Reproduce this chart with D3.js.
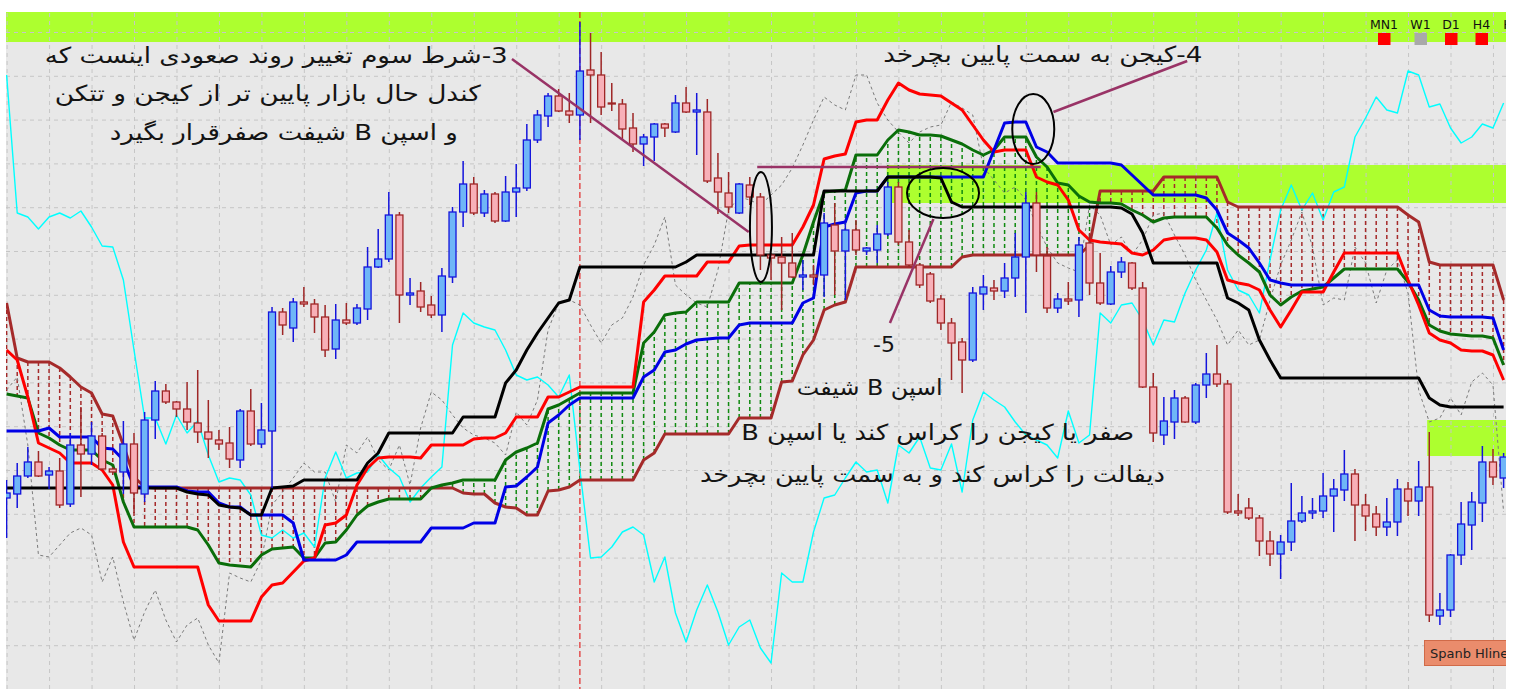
<!DOCTYPE html>
<meta charset="utf-8">
<style>
    body { margin: 0; background: #fff; }
    svg text { font-family: "DejaVu Sans", sans-serif; }
    .grid line { stroke: #c6c6c6; stroke-dasharray: 4,4; }
    .grid path { display: none; }
</style>
<body>
<script src="https://d3js.org/d3.v7.min.js"></script>
<script>
// candles (price in points)
var opens = [502,506,524,538,525,529,496,555,546,564,
    531,528,556,506,580,609,598,591,577,568,
    560,557,540,589,556,569,688,672,698,696,
    683,651,680,677,691,733,741,785,705,709,
    695,685,723,788,816,787,806,779,808,812,
    860,884,904,889,885,930,925,897,896,872,
    856,863,876,868,897,888,888,822,807,787,
    815,803,745,743,737,723,725,725,775,749,
    770,749,750,766,813,758,735,726,701,677,
    658,640,706,712,709,722,743,797,744,692,
    701,700,757,717,696,728,737,712,613,565,
    578,602,578,615,626,616,489,492,482,459,
    446,458,479,487,489,504,510,526,495,486,
    473,478,511,499,513,384,390,445,475,497,
    538,522];
var highs = [520,537,553,549,533,542,567,593,578,567,
    533,579,567,588,619,616,599,618,630,600,
    570,573,591,611,597,693,692,702,713,701,
    695,696,697,696,753,771,808,788,722,718,
    704,732,793,839,823,810,808,824,836,876,
    890,907,911,907,978,967,948,917,901,887,
    866,877,877,905,913,907,901,847,828,817,
    823,807,747,763,767,740,735,787,797,778,
    780,753,775,818,818,770,737,728,705,682,
    662,713,725,720,737,767,808,808,753,707,
    718,763,767,747,734,743,738,718,627,603,
    610,604,617,647,655,620,506,502,485,469,
    465,517,504,502,527,521,550,531,506,494,
    502,521,518,539,568,407,446,498,508,554,
    551,547];
var lows = [462,492,522,523,511,492,493,503,535,530,
    525,506,487,498,561,596,583,570,557,542,
    550,532,532,554,552,512,665,658,693,667,
    643,641,675,675,680,732,738,677,695,688,
    682,668,717,773,785,783,777,778,783,809,
    857,873,888,877,860,877,885,889,860,848,
    834,839,863,867,887,845,817,786,787,786,
    795,730,720,690,722,710,715,703,705,700,
    745,745,737,764,755,733,712,697,670,620,
    607,638,690,700,702,703,687,728,687,687,
    695,683,705,695,695,722,710,612,558,555,
    561,577,576,602,613,486,484,480,444,434,
    421,449,477,481,482,468,499,459,469,464,
    464,464,484,484,378,375,383,435,450,478,
    515,512];
var closes = [507,524,538,524,529,495,555,546,564,531,
    528,556,507,580,609,598,591,578,568,561,
    556,541,589,556,570,688,675,698,696,683,
    650,680,677,692,733,741,785,705,707,693,
    685,724,788,816,787,806,779,808,812,860,
    885,904,889,885,929,925,893,896,871,856,
    863,876,872,897,888,890,819,808,793,816,
    803,745,742,737,723,725,723,777,749,770,
    750,752,766,813,758,735,715,699,677,657,
    640,707,713,709,722,743,797,745,692,701,
    699,755,717,697,728,738,712,613,567,579,
    602,578,615,626,616,488,487,482,459,446,
    458,479,487,489,504,511,526,495,484,473,
    478,511,499,513,385,390,445,476,498,538,
    523,543];

// indicator lines, one value per candle
var blackLine = [512,512,512,512,512,512,512,512,512,512,
    512,512,512,512,512,512,512,508,506,505,
    495,493,492,485,485,512,513,514,520,520,
    520,520,520,520,537,547,567,567,567,567,
    567,567,567,583,583,583,583,617,630,650,
    667,682,697,700,733,733,733,733,733,733,
    733,733,733,733,738,745,745,745,745,745,
    745,745,745,745,745,745,745,809,809,809,
    809,809,809,823,823,823,823,823,822,798,
    793,793,793,793,793,793,793,793,793,793,
    793,793,793,793,793,792,786,767,737,737,
    737,737,737,737,737,702,697,690,660,640,
    622,622,622,622,622,622,622,622,622,622,
    622,622,622,622,602,595,593,593,593,593,
    593,593];
var blueLine = [569,569,569,569,572,563,563,563,563,552,
    551,540,513,513,513,513,513,509,508,508,
    497,493,493,485,485,485,485,477,440,440,
    440,440,445,458,458,458,458,458,458,458,
    472,472,472,472,477,477,477,513,514,523,
    533,577,585,595,602,602,602,602,602,602,
    623,630,648,650,656,660,661,662,662,675,
    677,677,677,677,677,697,702,773,776,778,
    807,809,809,823,823,823,823,823,823,823,
    823,823,823,850,877,878,878,853,848,837,
    837,837,837,837,837,835,825,815,805,805,
    805,805,805,802,790,767,760,752,737,720,
    717,715,715,715,715,715,715,715,715,715,
    715,715,715,715,690,684,683,683,683,683,
    682,650];
var redLine = [650,640,603,557,552,547,537,537,537,530,
    515,458,433,433,433,433,433,433,433,395,
    379,379,379,379,403,415,417,428,439,442,
    475,477,485,515,532,542,543,543,543,542,
    555,555,555,555,561,562,562,567,583,583,
    583,603,603,608,613,613,613,613,613,613,
    698,710,724,724,724,724,738,738,738,754,
    755,755,755,755,755,773,795,841,844,846,
    878,880,880,900,917,910,906,905,904,897,
    890,875,860,848,850,850,850,823,818,815,
    800,770,760,758,757,756,747,745,750,760,
    762,762,762,760,748,720,717,715,710,690,
    673,690,708,708,708,728,747,747,747,747,
    747,747,720,695,667,660,657,650,649,649,
    645,620];
var spanA = [606,604,602,567,562,555,550,550,550,540,
    535,498,473,473,473,473,473,473,470,455,
    437,435,434,433,445,451,452,453,442,442,
    457,458,470,485,494,498,501,501,501,501,
    512,515,517,520,520,520,520,540,548,552,
    557,591,595,601,607,607,607,607,607,607,
    657,668,685,687,688,698,698,698,698,717,
    717,717,717,717,717,745,778,808,809,810,
    845,845,845,860,870,868,865,865,864,860,
    856,850,845,850,863,863,863,843,833,817,
    815,804,798,797,797,796,790,785,778,782,
    783,783,783,783,772,755,745,737,728,705,
    695,703,709,711,713,722,731,731,731,731,
    731,731,718,700,675,669,666,665,664,664,
    662,635];
var spanB = [697,642,638,638,638,632,623,613,607,586,
    584,555,523,513,512,512,512,512,512,512,
    512,512,512,512,512,512,512,512,512,512,
    512,512,512,512,512,512,512,512,512,512,
    512,512,512,507,506,506,497,493,492,485,
    485,509,510,513,520,520,520,520,520,520,
    540,547,566,566,566,566,566,566,566,582,
    582,582,582,618,619,645,660,690,695,698,
    733,733,733,733,733,733,733,733,733,733,
    743,745,745,745,745,745,745,745,745,745,
    745,745,755,809,809,809,809,809,809,823,
    823,823,823,823,823,798,793,793,793,793,
    793,793,793,793,793,793,793,793,793,793,
    793,793,785,778,738,735,735,735,735,735,
    735,700];
var cyanLine = [925,787,783,771,783,787,782,789,773,754,
    753,720,650,582,582,556,585,567,579,545,
    518,522,520,505,465,462,470,462,467,453,
    522,548,522,527,528,545,532,523,498,512,
    523,533,655,687,677,673,670,650,625,620,
    623,615,603,625,530,442,443,453,468,473,
    465,418,443,387,358,390,415,388,355,373,
    380,352,337,427,418,418,468,502,505,522,
    538,528,530,497,555,547,563,532,530,556,
    508,580,608,600,593,578,565,560,555,542,
    589,557,565,687,677,695,697,680,655,680,
    678,707,730,750,787,730,710,705,687,740,
    790,815,790,807,780,808,813,863,882,903,
    890,887,929,925,893,896,872,857,863,876,
    872,897];
var grayLine = [610,623,555,445,443,455,467,472,465,418,
    443,398,360,388,410,380,358,375,382,355,
    337,427,422,418,440,495,508,522,537,528,
    528,498,555,547,563,540,530,555,515,572,
    608,600,585,572,565,562,557,545,588,575,
    600,670,697,700,695,675,657,675,682,703,
    735,755,783,715,705,697,693,730,790,803,
    800,795,805,815,832,855,880,903,895,890,
    925,925,897,880,868,857,868,873,875,898,
    892,885,833,820,807,813,800,775,753,737,
    732,728,795,785,755,763,745,760,785,787,
    765,745,720,700,680,655,670,655,660,700,
    735,760,788,753,695,702,700,753,737,697,
    730,740,707,610,578,582,602,585,618,627,
    615,488];

var priceTicks = [354.8,398.6,442.4,486.2,530,573.8,617.6,661.4,705.2,749,792.8,836.6,880.4,924.2,968];
var timeTicks = [0,4,8,12,16,20,24,28,32,36,40,44,48,52,56,60,64,68,72,76,80,84,88,92,96,100,104,108,112,116,120,124,128,132,136,140];

// lime zones (spanb hlines)
var zoneStart = [-1, 82.9, 133.8];
var zoneTop = [988, 835, 580];
var zoneBottom = [958, 797, 544];

var markerIndex = 54;

var frames = ["MN1", "W1", "D1", "H4", "H1"];
var frameState = ["#ff0000", "#a9a9a9", "#ff0000", "#ff0000", "#ff0000"];

var notes = [
    {t: "3-شرط سوم تغییر روند صعودی اینست که", i: 25.4, p: 937, w: 463},
    {t: "کندل حال بازار پایین تر از کیجن و تتکن", i: 24.6, p: 899, w: 426},
    {t: "و اسپن B  شیفت صفرقرار بگیرد", i: 26.1, p: 860, w: 348},
    {t: "4-کیجن به سمت پایین بچرخد", i: 97.6, p: 938, w: 319},
    {t: "اسپن B شیفت", i: 81.3, p: 605, w: 146},
    {t: "صفر یا کیجن را کراس کند یا اسپن B", i: 87.7, p: 560, w: 393},
    {t: "دیفالت را کراس کند و به سمت پایین بچرخد", i: 87.2, p: 518, w: 465}
];
var pointers = [
    [[47.6, 941], [69.9, 768]],
    [[70.7, 833], [97.4, 833]],
    [[98.6, 888], [111.2, 939]],
    [[87.3, 781], [83.2, 677]]
];
var rings = [
    {i: 71.05, p: 773, rx: 11, ry: 55},
    {i: 88.2, p: 807, rx: 36, ry: 25},
    {i: 96.7, p: 871, rx: 21, ry: 35}
];

var width = 1515, height = 690;
var plot = {left: 6, top: 12, right: 1506, bottom: 689};

var x = d3.scaleLinear().domain([0, 141]).range([6.6, 1503.6]);
var y = d3.scaleLinear().domain([311, 988]).range([689, 12]);

var svg = d3.select("body").append("svg")
    .attr("width", width)
    .attr("height", height);

svg.append("defs").append("clipPath").attr("id", "plotClip")
    .append("rect")
    .attr("x", plot.left).attr("y", plot.top)
    .attr("width", plot.right - plot.left)
    .attr("height", plot.bottom - plot.top);

var g = svg.append("g").attr("clip-path", "url(#plotClip)");

g.append("rect")
    .attr("x", plot.left).attr("y", plot.top)
    .attr("width", plot.right - plot.left)
    .attr("height", plot.bottom - plot.top)
    .attr("fill", "#e8e8e8");

// zones
g.selectAll(".zone")
    .data(d3.range(zoneStart.length))
    .enter().append("rect")
    .attr("x", function(k) { return x(zoneStart[k]); })
    .attr("width", function(k) { return plot.right - x(zoneStart[k]); })
    .attr("y", function(k) { return y(zoneTop[k]); })
    .attr("height", function(k) { return y(zoneBottom[k]) - y(zoneTop[k]); })
    .attr("fill", "#adff2f");

// grid
g.append("g").attr("class", "grid")
    .attr("transform", "translate(0," + plot.bottom + ")")
    .call(d3.axisBottom(x).tickValues(timeTicks).tickSize(-(plot.bottom - plot.top)).tickFormat(""));
g.append("g").attr("class", "grid")
    .attr("transform", "translate(" + plot.left + ",0)")
    .call(d3.axisLeft(y).tickValues(priceTicks).tickSize(-(plot.right - plot.left)).tickFormat(""));

// vertical marker
g.append("line")
    .attr("x1", x(markerIndex)).attr("x2", x(markerIndex))
    .attr("y1", plot.top).attr("y2", plot.bottom)
    .attr("stroke", "#e00000").attr("stroke-width", 1)
    .attr("stroke-dasharray", "6,3");

// cloud hatching
var idx = d3.range(opens.length);
g.selectAll(".hatch")
    .data(idx.filter(function(i) { return spanA[i] !== spanB[i]; }))
    .enter().append("line")
    .attr("x1", function(i) { return x(i); })
    .attr("x2", function(i) { return x(i); })
    .attr("y1", function(i) { return y(spanB[i]); })
    .attr("y2", function(i) { return y(spanA[i]); })
    .attr("stroke", function(i) { return spanB[i] > spanA[i] ? "#a52a2a" : "#108a10"; })
    .attr("stroke-width", 1.5)
    .attr("stroke-dasharray", "4,3");

var line = d3.line()
    .x(function(d, i) { return x(i); })
    .y(function(d) { return y(d); });

function drawLine(vals, color, w, dash) {
    g.append("path")
        .attr("d", line(vals))
        .attr("fill", "none")
        .attr("stroke", color)
        .attr("stroke-width", w)
        .attr("stroke-linejoin", "round")
        .attr("stroke-dasharray", dash || null);
}

drawLine(grayLine, "#7a7a7a", 1, "3,3");
drawLine(cyanLine, "#00ffff", 1.4);
drawLine(spanB, "#a52a2a", 3);
drawLine(spanA, "#0a6e0a", 3);
drawLine(redLine, "#ff0000", 3);
drawLine(blueLine, "#0000e6", 3);
drawLine(blackLine, "#000000", 3);

// candles
var bw = 7;
var candles = g.selectAll(".candle")
    .data(idx)
    .enter().append("g");

candles.append("line")
    .attr("x1", function(i) { return x(i); })
    .attr("x2", function(i) { return x(i); })
    .attr("y1", function(i) { return y(highs[i]); })
    .attr("y2", function(i) { return y(lows[i]); })
    .attr("stroke", function(i) { return closes[i] >= opens[i] ? "#1414dc" : "#9e2626"; })
    .attr("stroke-width", 1.5);

candles.append("rect")
    .attr("x", function(i) { return x(i) - bw / 2; })
    .attr("width", bw)
    .attr("y", function(i) { return y(Math.max(opens[i], closes[i])); })
    .attr("height", function(i) { return Math.max(1, Math.abs(y(opens[i]) - y(closes[i]))); })
    .attr("fill", function(i) { return closes[i] >= opens[i] ? "#6fb6f7" : "#f8b0b8"; })
    .attr("stroke", function(i) { return closes[i] >= opens[i] ? "#1414dc" : "#9e2626"; })
    .attr("stroke-width", 1.3);

// annotations
g.selectAll(".pointer")
    .data(pointers)
    .enter().append("line")
    .attr("x1", function(d) { return x(d[0][0]); })
    .attr("y1", function(d) { return y(d[0][1]); })
    .attr("x2", function(d) { return x(d[1][0]); })
    .attr("y2", function(d) { return y(d[1][1]); })
    .attr("stroke", "#993366")
    .attr("stroke-width", 2.5);

g.selectAll(".ring")
    .data(rings)
    .enter().append("ellipse")
    .attr("cx", function(d) { return x(d.i); })
    .attr("cy", function(d) { return y(d.p); })
    .attr("rx", function(d) { return d.rx; })
    .attr("ry", function(d) { return d.ry; })
    .attr("fill", "none")
    .attr("stroke", "#000")
    .attr("stroke-width", 2);

g.selectAll(".note")
    .data(notes)
    .enter().append("text")
    .attr("x", function(d) { return x(d.i); })
    .attr("y", function(d) { return y(d.p); })
    .attr("direction", "rtl")
    .attr("text-anchor", "middle")
    .attr("font-size", 22)
    .attr("fill", "#141414")
    .attr("textLength", function(d) { return d.w; })
    .attr("lengthAdjust", "spacingAndGlyphs")
    .text(function(d) { return d.t; });

g.append("text")
    .attr("x", x(81.6)).attr("y", y(648))
    .attr("font-size", 22)
    .attr("fill", "#141414")
    .text("-5");

// timeframe status
var tf = g.selectAll(".tf")
    .data(frames)
    .enter().append("g")
    .attr("transform", function(d, k) { return "translate(" + (1384 + k * 30.5 + (k > 0 ? 6 : 0)) + ",0)"; });
tf.append("text")
    .attr("x", 0).attr("y", 29)
    .attr("text-anchor", "middle")
    .attr("font-size", 12.5)
    .attr("fill", "#111")
    .text(function(d) { return d; });
tf.append("rect")
    .attr("x", -6).attr("y", 33)
    .attr("width", 12.5).attr("height", 12)
    .attr("fill", function(d, k) { return frameState[k]; });

// Spanb Hline button
g.append("rect")
    .attr("x", 1424.5).attr("y", 640.5)
    .attr("width", 84).attr("height", 25)
    .attr("fill", "#ea8c6c")
    .attr("stroke", "#d06a48");
g.append("text")
    .attr("x", 1430).attr("y", 658)
    .attr("font-family", "Liberation Sans, sans-serif")
    .attr("font-size", 13)
    .attr("fill", "#222")
    .text("Spanb Hline");
</script>
</body>
